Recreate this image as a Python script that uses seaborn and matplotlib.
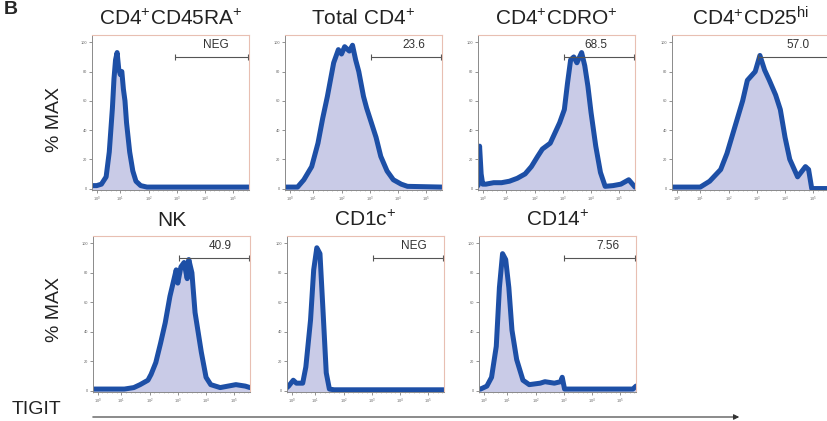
import matplotlib
matplotlib.use("Agg")
import matplotlib.pyplot as plt
import pandas as pd
import seaborn as sns
from matplotlib.ticker import AutoMinorLocator

# ─────────────────────────────────────────────────────────────────────────────
# DATA — histograms (x in channel units 0-100, y in % max)
# ─────────────────────────────────────────────────────────────────────────────

titles = [
    r"CD4$^{+}$CD45RA$^{+}$",
    r"Total CD4$^{+}$",
    r"CD4$^{+}$CDRO$^{+}$",
    r"CD4$^{+}$CD25$^{hi}$",
    "NK",
    r"CD1c$^{+}$",
    r"CD14$^{+}$",
]
gate_labels = ["NEG", "23.6", "68.5", "57.0", "40.9", "NEG", "7.56"]
gate_starts = [53, 55, 55, 55, 55, 55, 54]
gate_label_x = [79, 82, 75, 80, 81, 81, 82]

ra_x = [0, 3, 6, 9, 11, 13, 14, 15, 16, 17, 18, 19, 20, 21, 22, 24, 26, 28, 31, 35, 50, 70, 100]
ra_y = [2, 2, 3, 8, 25, 55, 75, 88, 93, 82, 78, 80, 68, 60, 45, 25, 12, 5, 2, 1, 1, 1, 1]

cd4_x = [0, 8, 12, 17, 21, 24, 27, 31, 34, 36, 38, 41, 43, 45, 47, 50, 52, 55, 58, 61, 65, 69, 74, 78, 100]
cd4_y = [1, 1, 6, 15, 31, 48, 63, 86, 95, 92, 97, 94, 98, 88, 80, 63, 55, 45, 35, 22, 12, 6, 3, 1.5, 1]

ro_x = [0, 1, 2, 3, 5, 10, 15, 20, 25, 30, 34, 38, 41, 46, 49, 52, 55, 57, 59, 61, 63, 66, 68, 70, 72, 75, 78, 81, 86, 91, 96, 100]
ro_y = [2, 29, 10, 3, 3, 4, 4, 5, 7, 10, 15, 22, 27, 31, 38, 45, 54, 72, 88, 90, 86, 93, 84, 70, 52, 29, 11, 1.5, 2, 3, 6, 1]

cd25_x = [0, 18, 24, 31, 35, 40, 45, 48, 53, 56, 59, 62, 66, 69, 72, 75, 80, 85, 87, 89, 92, 100]
cd25_y = [1, 1, 5, 13, 24, 42, 60, 74, 80, 91, 81, 74, 64, 54, 35, 20, 8, 15, 13, 0, 0, 0]

nk_x = [0, 20, 26, 30, 35, 37, 40, 43, 46, 49, 53, 54, 56, 58, 60, 61, 63, 65, 69, 72, 75, 81, 91, 97, 100]
nk_y = [1, 1, 2, 4, 7, 11, 19, 32, 46, 64, 82, 73, 84, 87, 76, 89, 80, 53, 26, 9, 4, 2, 4, 3, 2]

cd1c_x = [0, 1, 4, 6, 10, 12, 15, 17, 19, 21, 23, 25, 27, 30, 100]
cd1c_y = [2, 3, 7, 5, 5, 16, 48, 82, 97, 93, 53, 12, 1, 0.5, 0.5]

cd14_x = [0, 1, 5, 8, 11, 13, 15, 17, 19, 21, 24, 28, 32, 39, 42, 48, 52, 53, 54.5, 58, 77, 98, 100]
cd14_y = [1, 1, 3, 9, 30, 70, 93, 89, 70, 41, 21, 7, 4, 5, 6, 5, 6, 9, 1, 1, 1, 1, 3]

series_x = [ra_x, cd4_x, ro_x, cd25_x, nk_x, cd1c_x, cd14_x]
series_y = [ra_y, cd4_y, ro_y, cd25_y, nk_y, cd1c_y, cd14_y]

x_ticks = [3, 18, 36, 54, 72, 90]
x_tick_labels = [r"$10^{0}$", r"$10^{1}$", r"$10^{2}$", r"$10^{3}$", r"$10^{4}$", r"$10^{5}$"]
y_ticks = [0, 20, 40, 60, 80, 100]

# ─────────────────────────────────────────────────────────────────────────────
# STYLE / LAYOUT
# ─────────────────────────────────────────────────────────────────────────────

sns.set_style("white")
plt.rcParams["font.family"] = ["Liberation Sans", "DejaVu Sans"]
plt.rcParams["mathtext.default"] = "regular"

LINE = "#1d4fa6"
FILL = "#c9cbe7"

fig = plt.figure(figsize=(8.28, 4.21), dpi=100)
W, H = 828, 421

row_top = [35, 236]
row_bottom = [190, 392]
col_left = [[92, 285, 478, 672], [93, 287, 479]]
panel_w = 157

idx = 0
for r in range(2):
    for left in col_left[r]:
        rect = [left / W, 1 - row_bottom[r] / H, panel_w / W,
                (row_bottom[r] - row_top[r]) / H]
        ax = fig.add_axes(rect)
        df = pd.DataFrame({"x": series_x[idx], "y": series_y[idx]})
        ax.fill_between(df["x"], df["y"], -1, color=FILL, lw=0)
        sns.lineplot(data=df, x="x", y="y", ax=ax, color=LINE, lw=3.6,
                     sort=False, estimator=None)

        # gate bar
        gy = 90
        ax.plot([gate_starts[idx], 99.6], [gy, gy], color="#555555", lw=0.8,
                marker="|", markersize=4, markeredgewidth=0.8, clip_on=False)
        ax.text(gate_label_x[idx], 98, gate_labels[idx], ha="center",
                va="center", fontsize=8.5, color="#333333")

        ax.set_xlim(0, 100)
        ax.set_ylim(-1, 105)
        ax.set_xticks(x_ticks)
        ax.set_xticklabels(x_tick_labels)
        ax.set_yticks(y_ticks)
        ax.set_yticklabels([str(v) for v in y_ticks])
        ax.xaxis.set_minor_locator(AutoMinorLocator(5))
        ax.tick_params(axis="both", which="major", length=2, width=0.5,
                       labelsize=2.8, colors="#666666", pad=1.5, direction="out")
        ax.tick_params(axis="x", which="minor", length=1, width=0.4,
                       colors="#999999", bottom=True)
        ax.tick_params(axis="x", which="major", bottom=True)
        ax.tick_params(axis="y", which="major", left=True)
        ax.set_xlabel("")
        ax.set_ylabel("")
        for side in ["left", "bottom"]:
            ax.spines[side].set_color("#8a8a8a")
            ax.spines[side].set_linewidth(0.7)
        for side in ["top", "right"]:
            ax.spines[side].set_color("#e8bfb2")
            ax.spines[side].set_linewidth(0.8)
        ax.set_title(titles[idx], fontsize=15, pad=7, color="#222222")
        idx += 1

# shared annotations
fig.text(0.004, 1 - 14 / H, "B", fontsize=14, fontweight="bold", va="baseline")
for yc in [120, 310]:
    fig.text(55 / W, 1 - yc / H, "% MAX", rotation=90, fontsize=14,
             ha="center", va="center", color="#222222")
fig.text(12 / W, 1 - 410 / H, "TIGIT", fontsize=14, ha="left", va="center",
         color="#222222")
fig.add_artist(matplotlib.patches.FancyArrowPatch(
    (90 / W, 1 - 417 / H), (742 / W, 1 - 417 / H), transform=fig.transFigure,
    arrowstyle="-|>", mutation_scale=8, lw=0.8, color="#333333"))

plt.savefig("out.png", dpi=100)
